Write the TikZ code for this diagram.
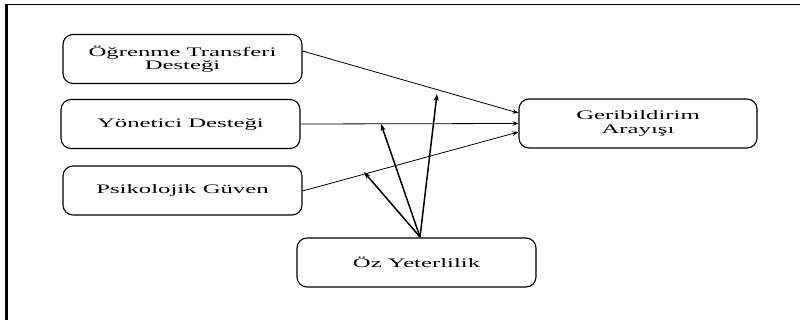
\documentclass[tikz,border=0pt]{standalone}
\usepackage{fontspec}
\setmainfont{Liberation Serif}
\newfontfamily\widefont[FakeStretch=1.9]{Liberation Serif}
\usetikzlibrary{arrows.meta}
\begin{document}
\begin{tikzpicture}[x=1pt,y=-1pt,
  box/.style={draw,line width=1.1pt,rounded corners=10pt,minimum width=239pt,minimum height=49pt,
    font=\widefont\fontsize{13}{13.5}\selectfont,align=center,inner sep=0pt},
  rel/.style={line width=0.8pt,-{Stealth[length=6pt,width=4.5pt]}},
  mod/.style={line width=1.5pt,-{Stealth[length=7pt,width=5pt]}}]
\useasboundingbox (0,0) rectangle (800,320);
\draw[line width=1.5pt] (800,4.5) -- (6.5,4.5);
\draw[line width=3pt] (6.5,3.75) -- (6.5,320);
\node[box] (ot) at (182.5,59) {Öğrenme Transferi\\Desteği};
\node[box] (yd) at (180.5,124) {Yönetici Desteği};
\node[box] (pg) at (182.5,190.5) {Psikolojik Güven};
\node[box] (oy) at (416.5,262.5) {Öz Yeterlilik};
\node[box,minimum width=238pt] (ga) at (638,123.5) {Geribildirim\\Arayışı};
\coordinate (oyt) at (420,237);
\coordinate (m1) at (437,94);
\coordinate (m2) at (381,124);
\coordinate (m3) at (364,172);
\draw[rel] (ot.east |- 0,51) -- (ga.west |- 0,113);
\draw[rel] (yd.east) -- (ga.west);
\draw[rel] (pg.east |- 0,191) -- (ga.west |- 0,132);
\draw[mod] (oyt) -- (m1);
\draw[mod] (oyt) -- (m2);
\draw[mod] (oyt) -- (m3);
\end{tikzpicture}
\end{document}
